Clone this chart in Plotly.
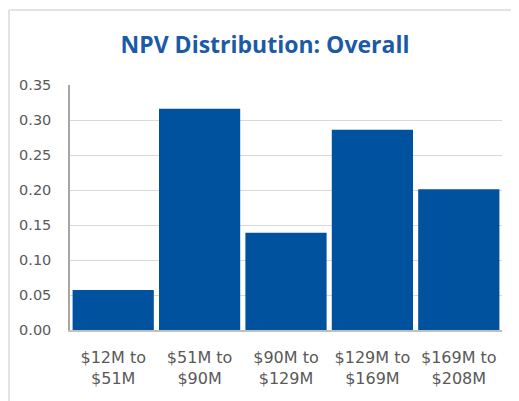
import plotly.graph_objects as go

categories = ["$12M to<br>$51M", "$51M to<br>$90M", "$90M to<br>$129M",
              "$129M to<br>$169M", "$169M to<br>$208M"]
shares = [0.057, 0.316, 0.139, 0.286, 0.201]
y_ticks = [0, 0.05, 0.10, 0.15, 0.20, 0.25, 0.30, 0.35]

BAR_COLOR = "#00519e"
TEXT_GREY = "#595959"

# the page adds an 8px body margin, so the figure is 8px smaller than the window
W, H = 511, 393
L, R, T, B = 62, 494, 77, 322   # plot area edges in figure pixels

fig = go.Figure(go.Bar(
    x=categories, y=shares,
    marker=dict(color=BAR_COLOR, line=dict(width=0)),
    hoverinfo="x+y",
))

fig.update_layout(
    width=W, height=H,
    margin=dict(l=L, r=W - R, t=T, b=H - B, autoexpand=False),
    paper_bgcolor="white", plot_bgcolor="white",
    bargap=0.06,
    showlegend=False,
    font=dict(family="DejaVu Sans", color=TEXT_GREY),
    title=dict(
        text="<b>NPV Distribution: Overall</b>",
        font=dict(family="Open Sans", size=23, color="#1c5aa6"),
        x=257 / W, xanchor="center", xref="container",
        y=1 - 37 / H, yanchor="middle", yref="container",
    ),
    xaxis=dict(
        showgrid=False, showline=True, linecolor="#bfbfbf", linewidth=1.5,
        tickfont=dict(size=16, color=TEXT_GREY), ticks="",
        ticklabelstandoff=12, automargin=False,
    ),
    yaxis=dict(
        range=[0, 0.35], tickvals=y_ticks, tickformat=".2f",
        showgrid=True, gridcolor="#d9d9d9", gridwidth=1,
        showline=True, linecolor="#a6a6a6", linewidth=1.5,
        zeroline=False, ticks="",
        tickfont=dict(size=14.5, color=TEXT_GREY),
        ticklabelstandoff=14, automargin=False,
    ),
    shapes=[
        # light frame around the chart area (top and left edges)
        dict(type="line", xref="paper", yref="paper",
             x0=(1 - L) / (R - L), x1=1.1,
             y0=(B - 2) / (B - T), y1=(B - 2) / (B - T),
             line=dict(color="#e3e3e3", width=2)),
        dict(type="line", xref="paper", yref="paper",
             x0=(1 - L) / (R - L), x1=(1 - L) / (R - L),
             y0=-0.4, y1=(B - 2) / (B - T),
             line=dict(color="#e3e3e3", width=2)),
    ],
)

fig.write_html("out.html")
